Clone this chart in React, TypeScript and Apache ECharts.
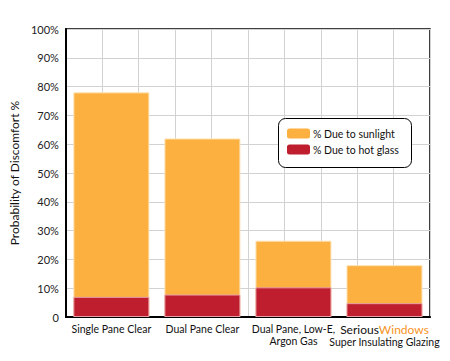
import React, { useEffect, useRef } from "react";
import * as echarts from "echarts";

const categories = [
  "Single Pane Clear",
  "Dual Pane Clear",
  "Dual Pane, Low-E,\nArgon Gas",
  "SeriousWindows\nSuper Insulating Glazing",
];
const sunlightTotal = [78, 62, 26.5, 18];
const hotGlass = [7, 7.8, 10.3, 4.8];
const seriesNames = ["% Due to sunlight", "% Due to hot glass"];

const FONT = "Lato, 'Open Sans', sans-serif";

export default function App() {
  const ref = useRef<HTMLDivElement>(null);
  useEffect(() => {
    if (!ref.current) return;
    const chart = echarts.init(ref.current, null, { renderer: "svg" });
    chart.setOption({
      animation: false,
      backgroundColor: "#fff",
      textStyle: { fontFamily: FONT },
      grid: {
        left: 57,
        right: 20,
        top: 29,
        bottom: 44,
        show: true,
        borderColor: "#000",
        borderWidth: 1.5,
      },
      graphic: [
        {
          type: "rect",
          left: 278,
          top: 118,
          shape: { width: 133, height: 49, r: 7 },
          style: { fill: "#fff", stroke: "#000", lineWidth: 1 },
          z: 10,
        },
      ],
      legend: {
        orient: "vertical",
        left: 278,
        top: 119,
        data: seriesNames,
        itemWidth: 23,
        itemHeight: 10,
        itemGap: 5,
        padding: [9, 10, 8, 9],
        z: 20,
        textStyle: { fontSize: 10.5, color: "#111", fontFamily: FONT, padding: [0, 0, 0, -2] },
        itemStyle: { borderWidth: 0 },
      },
      xAxis: [
        {
          type: "category",
          data: categories,
          axisLine: { lineStyle: { color: "#000", width: 2 } },
          axisTick: { show: false },
          splitLine: { show: false },
          axisLabel: {
            interval: 0,
            margin: 6,
            fontSize: 10.5,
            color: "#111",
            lineHeight: 12,
            formatter: (v: string, i: number) => {
              if (i === 3) {
                const [first, second] = v.split("\n");
                return `{a|${first.slice(0, 7)}}{b|${first.slice(7)}}\n{c|${second}}`;
              }
              return v;
            },
            rich: {
              a: { fontSize: 12, color: "#111", fontFamily: FONT, lineHeight: 13 },
              b: { fontSize: 12, color: "#F7941D", fontFamily: FONT, lineHeight: 13 },
              c: { fontSize: 10.5, color: "#111", fontFamily: FONT, lineHeight: 12 },
            },
          },
        },
        {
          type: "value",
          min: 0,
          max: 10,
          interval: 1,
          position: "bottom",
          axisLine: { show: false },
          axisTick: { show: false },
          axisLabel: { show: false },
          splitLine: { show: true, lineStyle: { color: "#d2d2d2", width: 1 } },
        },
      ],
      yAxis: {
        type: "value",
        min: 0,
        max: 100,
        interval: 10,
        name: "Probability of Discomfort %",
        nameLocation: "middle",
        nameGap: 34,
        nameTextStyle: { fontSize: 12, color: "#111", fontFamily: FONT },
        axisLine: { show: true, lineStyle: { color: "#000", width: 2 } },
        axisTick: { show: false },
        axisLabel: {
          margin: 7,
          fontSize: 11,
          color: "#222",
          formatter: (v: number) => (v === 0 ? "0" : `${v}%`),
        },
        splitLine: { show: true, lineStyle: { color: "#d2d2d2", width: 1 } },
      },
      series: [
        {
          name: seriesNames[0],
          type: "bar",
          xAxisIndex: 0,
          data: sunlightTotal,
          barWidth: 76,
          itemStyle: { color: "#FBB040", borderColor: "#FDE2B5", borderWidth: 1 },
          z: 2,
        },
        {
          name: seriesNames[1],
          type: "bar",
          xAxisIndex: 0,
          data: hotGlass,
          barWidth: 76,
          barGap: "-100%",
          itemStyle: { color: "#BE1E2D", borderColor: "#E8A0A6", borderWidth: 1 },
          z: 3,
        },
      ],
    });
    return () => chart.dispose();
  }, []);
  return <div ref={ref} style={{ width: 450, height: 361, margin: -8 }} />;
}
